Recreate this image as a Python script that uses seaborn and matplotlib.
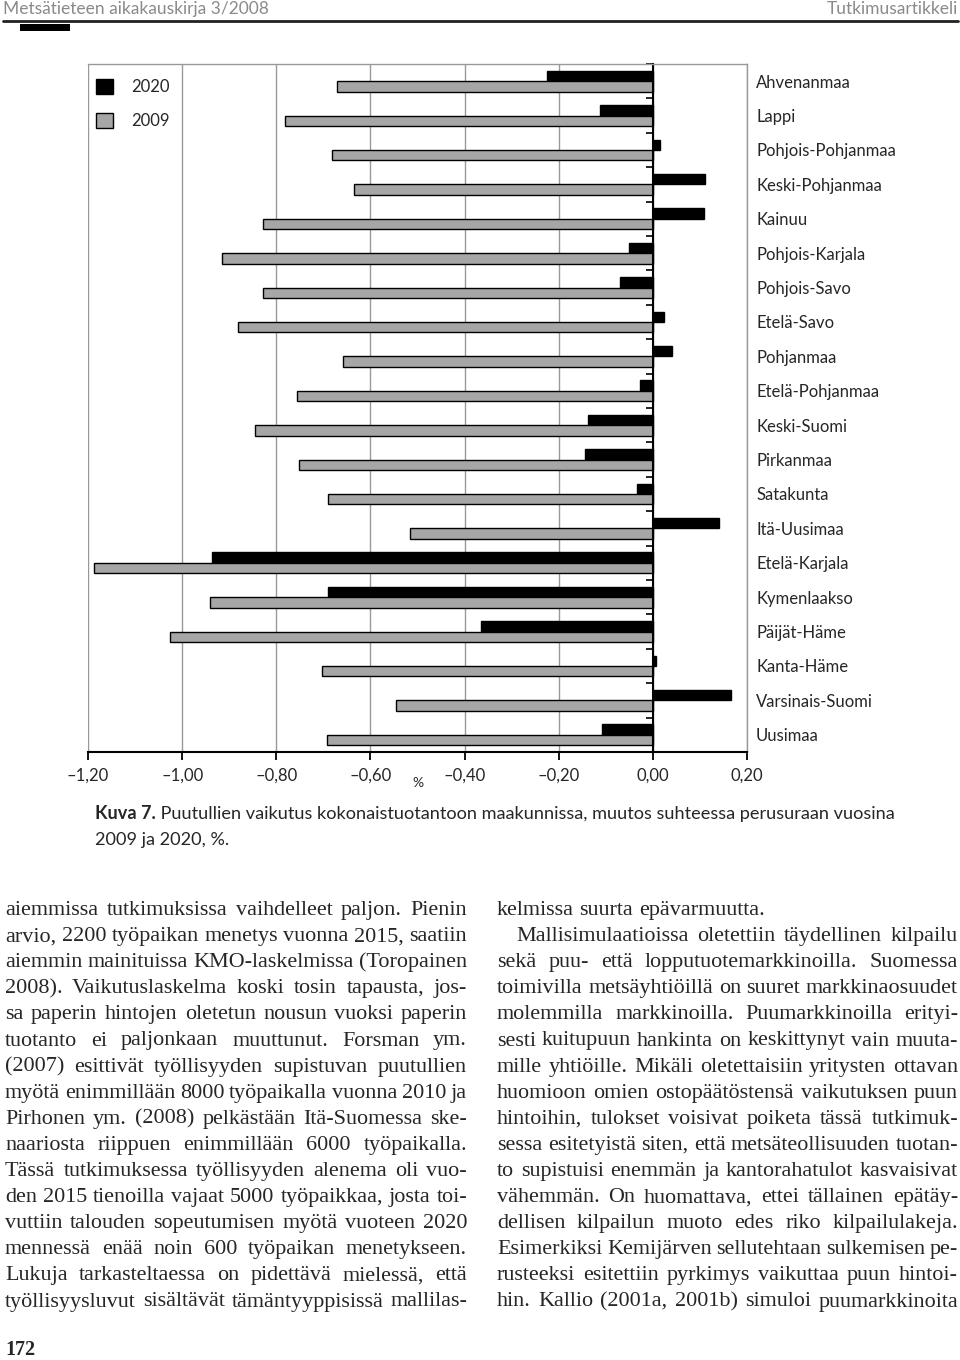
import numpy as np
import pandas as pd
import matplotlib.pyplot as plt
import seaborn as sns
from matplotlib.lines import Line2D
from matplotlib.patches import Rectangle

sns.set_style('white')
plt.rcParams['font.family'] = ['Lato', 'DejaVu Sans']
SERIF = ['Liberation Serif', 'DejaVu Serif']

regions = ['Ahvenanmaa', 'Lappi', 'Pohjois-Pohjanmaa', 'Keski-Pohjanmaa', 'Kainuu',
           'Pohjois-Karjala', 'Pohjois-Savo', 'Etelä-Savo', 'Pohjanmaa', 'Etelä-Pohjanmaa',
           'Keski-Suomi', 'Pirkanmaa', 'Satakunta', 'Itä-Uusimaa', 'Etelä-Karjala',
           'Kymenlaakso', 'Päijät-Häme', 'Kanta-Häme', 'Varsinais-Suomi', 'Uusimaa']
v2020 = [-0.225, -0.112, 0.015, 0.110, 0.108, -0.051, -0.070, 0.023, 0.040, -0.028,
         -0.138, -0.144, -0.033, 0.141, -0.937, -0.691, -0.366, 0.006, 0.165, -0.107]
v2009 = [-0.670, -0.781, -0.682, -0.634, -0.828, -0.915, -0.828, -0.881, -0.658, -0.757,
         -0.846, -0.752, -0.690, -0.515, -1.188, -0.940, -1.025, -0.702, -0.545, -0.693]
years = ['2020', '2009']
xticks = [-1.2, -1.0, -0.8, -0.6, -0.4, -0.2, 0.0, 0.2]
xticklabels = ['–1,20', '–1,00', '–0,80', '–0,60', '–0,40', '–0,20', '0,00', '0,20']

caption_bold = 'Kuva 7.'
caption_rest = ' Puutullien vaikutus kokonaistuotantoon maakunnissa, muutos suhteessa perusuraan vuosina'
caption_line2 = '2009 ja 2020, %.'

left_col = [
    'aiemmissa tutkimuksissa vaihdelleet paljon. Pienin',
    'arvio, 2200 työpaikan menetys vuonna 2015, saatiin',
    'aiemmin mainituissa KMO-laskelmissa (Toropainen',
    '2008). Vaikutuslaskelma koski tosin tapausta, jos-',
    'sa paperin hintojen oletetun nousun vuoksi paperin',
    'tuotanto ei paljonkaan muuttunut. Forsman ym.',
    '(2007) esittivät työllisyyden supistuvan puutullien',
    'myötä enimmillään 8000 työpaikalla vuonna 2010 ja',
    'Pirhonen ym. (2008) pelkästään Itä-Suomessa ske-',
    'naariosta riippuen enimmillään 6000 työpaikalla.',
    'Tässä tutkimuksessa työllisyyden alenema oli vuo-',
    'den 2015 tienoilla vajaat 5000 työpaikkaa, josta toi-',
    'vuttiin talouden sopeutumisen myötä vuoteen 2020',
    'mennessä enää noin 600 työpaikan menetykseen.',
    'Lukuja tarkasteltaessa on pidettävä mielessä, että',
    'työllisyysluvut sisältävät tämäntyyppisissä mallilas-',
]
right_col = [
    'kelmissa suurta epävarmuutta.',
    'Mallisimulaatioissa oletettiin täydellinen kilpailu',
    'sekä puu- että lopputuotemarkkinoilla. Suomessa',
    'toimivilla metsäyhtiöillä on suuret markkinaosuudet',
    'molemmilla markkinoilla. Puumarkkinoilla erityi-',
    'sesti kuitupuun hankinta on keskittynyt vain muuta-',
    'mille yhtiöille. Mikäli oletettaisiin yritysten ottavan',
    'huomioon omien ostopäätöstensä vaikutuksen puun',
    'hintoihin, tulokset voisivat poiketa tässä tutkimuk-',
    'sessa esitetyistä siten, että metsäteollisuuden tuotan-',
    'to supistuisi enemmän ja kantorahatulot kasvaisivat',
    'vähemmän. On huomattava, ettei tällainen epätäy-',
    'dellisen kilpailun muoto edes riko kilpailulakeja.',
    'Esimerkiksi Kemijärven sellutehtaan sulkemisen pe-',
    'rusteeksi esitettiin pyrkimys vaikuttaa puun hintoi-',
    'hin. Kallio (2001a, 2001b) simuloi puumarkkinoita',
]

W, H = 960, 1360
def fx(x):
    return x / W
def fy(y):
    return 1 - y / H

df = pd.DataFrame({
    'maakunta': regions * 2,
    'muutos': v2020 + v2009,
    'vuosi': [years[0]] * len(regions) + [years[1]] * len(regions),
})

fig = plt.figure(figsize=(9.6, 13.6), dpi=100)
ax = fig.add_axes([fx(88), fy(752), (747 - 88) / W, (752 - 64) / H])
sns.barplot(data=df, y='maakunta', x='muutos', hue='vuosi', hue_order=years, order=regions,
            palette={'2020': 'black', '2009': '#a6a6a6'}, edgecolor='black', linewidth=1,
            width=0.6, errorbar=None, orient='h', ax=ax)

ax.set_xlim(-1.2, 0.2)
ax.set_ylim(len(regions) - 0.5, -0.5)
ax.set_xticks(xticks)
ax.set_xticklabels(xticklabels, fontsize=12)
ax.set_xlabel('')
ax.set_ylabel('')
ax.xaxis.grid(True, color='#999999', lw=1)
ax.yaxis.grid(False)
ax.set_axisbelow(True)

ax.spines['left'].set_position(('data', 0))
ax.spines['left'].set_color('black')
ax.spines['left'].set_linewidth(1.5)
ax.spines['bottom'].set_color('black')
ax.spines['bottom'].set_linewidth(1.5)
for s in ['top', 'right']:
    ax.spines[s].set_color('#999999')
    ax.spines[s].set_linewidth(1)

ax.tick_params(axis='x', direction='out', length=6, width=1.3, color='black', bottom=True, pad=5)
ax.set_yticks(range(len(regions)))
ax.set_yticklabels(regions)
ax.tick_params(axis='y', which='major', left=False, right=False, labelleft=False,
               labelright=True, labelsize=12, pad=3)
ax.set_yticks(np.arange(-0.5, len(regions), 1), minor=True)
ax.tick_params(axis='y', which='minor', left=True, right=False, direction='out',
               length=5, width=1.2, color='black')

handles, labels = ax.get_legend_handles_labels()
ax.legend(handles, labels, loc='upper left', bbox_to_anchor=(fx(96), fy(79)),
          bbox_transform=fig.transFigure, frameon=False, fontsize=12,
          handlelength=1.0, handleheight=1.0, handletextpad=1.1, labelspacing=1.05,
          borderpad=0, borderaxespad=0)

fig.text(fx(418), fy(783), '%', fontsize=10, ha='center', va='center')

# page header
fig.text(fx(3), fy(9), 'Metsätieteen aikakauskirja 3/2008', fontsize=12.5, color='#8a8a8a',
         ha='left', va='center')
fig.text(fx(958), fy(9), 'Tutkimusartikkeli', fontsize=12.5, color='#8a8a8a',
         ha='right', va='center')
fig.add_artist(Line2D([fx(3), fx(958)], [fy(21), fy(21)], color='#222222', lw=2))
fig.add_artist(Rectangle((fx(20), fy(31)), 50 / W, 7 / H, color='black', lw=0))

renderer = fig.canvas.get_renderer()
def text_w(s, fs, family, weight='normal'):
    t = fig.text(0, 0, s, fontsize=fs, family=family, weight=weight)
    w = t.get_window_extent(renderer).width
    t.remove()
    return w

# caption
cap_fs = 13.05
fig.text(fx(95), fy(819), caption_bold, fontsize=cap_fs, weight='bold', va='baseline')
bw = text_w(caption_bold, cap_fs, plt.rcParams['font.family'], 'bold')
fig.text(fx(95 + bw), fy(819), caption_rest, fontsize=cap_fs, va='baseline')
fig.text(fx(95), fy(845), caption_line2, fontsize=cap_fs, va='baseline')

# body text, justified
def fit_size(lines, width, indent_first=0):
    best = 18.0
    for i, line in enumerate(lines):
        words = line.split()
        if len(words) < 2:
            continue
        nat = sum(text_w(w, 14, SERIF) for w in words) / 14
        avail = width - (indent_first if i == 1 else 0)
        fs = avail / (nat + (len(words) - 1) * 0.15 * 100 / 72)
        best = min(best, fs)
    return best

def put_line(line, x0, x1, base, fs, justify=True):
    words = line.split()
    ws = [text_w(w, fs, SERIF) for w in words]
    if justify and len(words) > 1:
        gap = (x1 - x0 - sum(ws)) / (len(words) - 1)
    else:
        gap = fs * 100 / 72 * 0.25
    x = x0
    for w, wd in zip(words, ws):
        fig.text(fx(x), fy(base), w, fontsize=fs, family=SERIF, va='baseline', ha='left')
        x += wd + gap

fs_body = min(fit_size(left_col, 462), fit_size(right_col, 461, 19))
for i, line in enumerate(left_col):
    put_line(line, 5, 467, 915 + 26.1 * i, fs_body)
for i, line in enumerate(right_col):
    x0 = 516 if i == 1 else 497
    put_line(line, x0, 958, 915 + 26.1 * i, fs_body, justify=(i != 0))

fig.text(fx(5), fy(1350), '172', fontsize=14.5, weight='bold', family=SERIF, va='center')

fig.savefig('out.png', dpi=100)
